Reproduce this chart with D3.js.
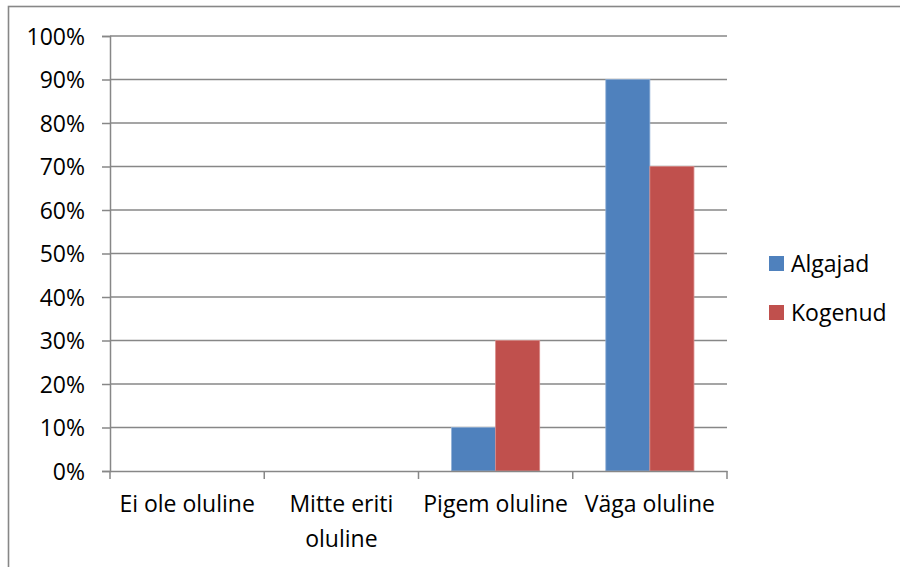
<!DOCTYPE html>
<html>
<head>
<meta charset="utf-8">
<script src="https://cdn.jsdelivr.net/npm/d3@7"></script>
<style>
  body { margin: 0; background: #fff; }
  svg text { font-family: "Open Sans", sans-serif; fill: #000; }
</style>
</head>
<body>
<div id="chart"></div>
<script>
// grouped column chart: Algajad vs Kogenud per importance category

const categories = ["Ei ole oluline", "Mitte eriti oluline", "Pigem oluline", "Väga oluline"];
const seriesNames = ["Algajad", "Kogenud"];
const algajad = [0, 0, 0.10, 0.90];
const kogenud = [0, 0, 0.30, 0.70];
const yTicks = [0, 0.1, 0.2, 0.3, 0.4, 0.5, 0.6, 0.7, 0.8, 0.9, 1.0];

const width = 900, height = 567;
const margin = { top: 36, right: 173, bottom: 96, left: 110 };
const color = d3.scaleOrdinal().domain(seriesNames).range(["#4f81bd", "#c0504d"]);
const gridColor = "#878787";
const fontSize = "23px";

const svg = d3.select("#chart").append("svg")
  .attr("width", width)
  .attr("height", height);

// outer chart border (only top & left visible in the frame)
svg.append("rect")
  .attr("x", 8.5).attr("y", 6.5)
  .attr("width", 1000).attr("height", 1000)
  .attr("fill", "none")
  .attr("stroke", gridColor)
  .attr("stroke-width", 1.6);

const x0 = d3.scaleBand()
  .domain(categories)
  .range([margin.left, width - margin.right])
  .padding(0);

// gap width 150% -> outer padding 0.75 of bar width on each side
const x1 = d3.scaleBand()
  .domain(seriesNames)
  .range([0, x0.bandwidth()])
  .paddingInner(0)
  .paddingOuter(0.75);

const y = d3.scaleLinear()
  .domain([0, 1])
  .range([height - margin.bottom, margin.top]);

// gridlines
svg.append("g")
  .selectAll("line")
  .data(yTicks.slice(1))
  .join("line")
  .attr("x1", margin.left).attr("x2", width - margin.right)
  .attr("y1", d => y(d)).attr("y2", d => y(d))
  .attr("stroke", gridColor)
  .attr("stroke-width", 1.5);

// bars
const rows = categories.map((c, i) => ({ cat: c, values: [algajad[i], kogenud[i]] }));
svg.append("g")
  .selectAll("g")
  .data(rows)
  .join("g")
  .attr("transform", d => `translate(${x0(d.cat)},0)`)
  .selectAll("rect")
  .data(d => d.values.map((v, j) => ({ key: seriesNames[j], value: v })))
  .join("rect")
  .attr("x", d => x1(d.key))
  .attr("y", d => y(d.value))
  .attr("width", x1.bandwidth())
  .attr("height", d => y(0) - y(d.value))
  .attr("fill", d => color(d.key))
  .attr("stroke", d => d.key === "Algajad" ? "#8eaed6" : "#d98a88")
  .attr("stroke-width", 0.8);

// y axis
const yAxis = svg.append("g")
  .attr("transform", `translate(${margin.left},0)`)
  .call(d3.axisLeft(y).tickValues(yTicks).tickFormat(d3.format(".0%")).tickSize(8).tickPadding(17));
yAxis.select(".domain").attr("stroke", gridColor).attr("stroke-width", 1.5);
yAxis.selectAll(".tick line").attr("stroke", gridColor).attr("stroke-width", 1.5);
yAxis.selectAll("text").style("font-size", fontSize).attr("dy", "0.35em");

// x axis
const xAxis = svg.append("g")
  .attr("transform", `translate(0,${y(0)})`)
  .call(d3.axisBottom(x0).tickSize(0).tickFormat(""));
xAxis.select(".domain").attr("stroke", gridColor).attr("stroke-width", 1.5);

// category boundary ticks
const bounds = categories.map(c => x0(c)).concat([x0.range()[1]]);
xAxis.selectAll(".bound")
  .data(bounds)
  .join("line")
  .attr("class", "bound")
  .attr("x1", d => d).attr("x2", d => d)
  .attr("y1", 0).attr("y2", 8)
  .attr("stroke", gridColor)
  .attr("stroke-width", 1.5);

// category labels (wrapped like the original)
const labelLines = {
  "Ei ole oluline": ["Ei ole oluline"],
  "Mitte eriti oluline": ["Mitte eriti", "oluline"],
  "Pigem oluline": ["Pigem oluline"],
  "Väga oluline": ["Väga oluline"]
};
categories.forEach(c => {
  const t = svg.append("text")
    .attr("text-anchor", "middle")
    .style("font-size", fontSize)
    .attr("x", x0(c) + x0.bandwidth() / 2)
    .attr("y", y(0) + 41);
  labelLines[c].forEach((line, i) => {
    t.append("tspan")
      .attr("x", x0(c) + x0.bandwidth() / 2)
      .attr("dy", i === 0 ? 0 : 35)
      .text(line);
  });
});

// legend
const legend = svg.append("g")
  .attr("transform", "translate(769,256)")
  .selectAll("g")
  .data(seriesNames)
  .join("g")
  .attr("transform", (d, i) => `translate(0,${i * 49})`);

legend.append("rect")
  .attr("width", 15).attr("height", 15)
  .attr("fill", d => color(d));

legend.append("text")
  .attr("x", 22)
  .attr("y", 15.5)
  .style("font-size", fontSize)
  .text(d => d);
</script>
</body>
</html>
